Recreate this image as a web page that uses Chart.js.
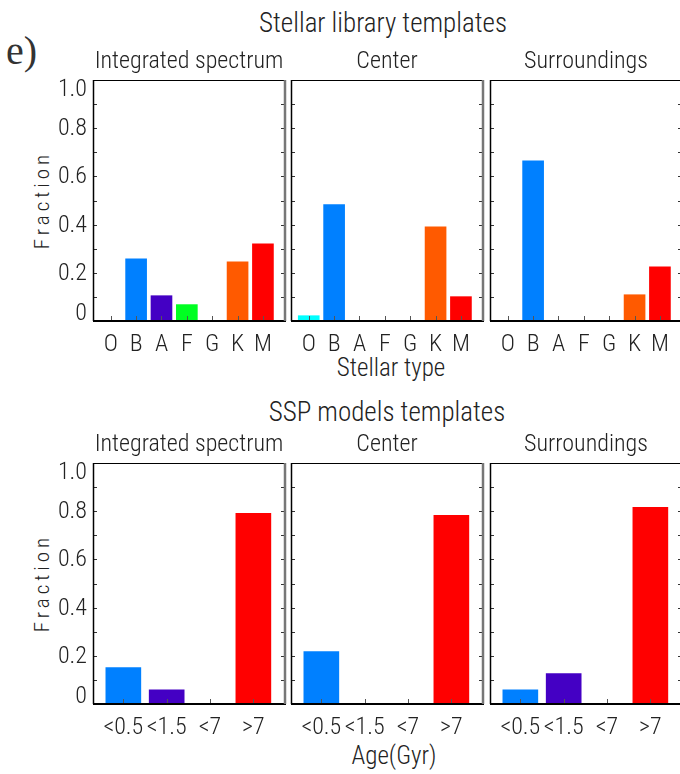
<!DOCTYPE html>
<html lang="en">
<head>
<meta charset="UTF-8">
<title>Stellar library and SSP template fractions</title>
<script src="https://cdn.jsdelivr.net/npm/chart.js"></script>
<style>
    body { margin: 0; background: #fff; overflow: hidden; }
    #wrap {
        position: relative; width: 680px; height: 774px; overflow: hidden;
        font-family: "Roboto Condensed", "Liberation Sans Narrow", "DejaVu Sans Condensed", sans-serif;
        font-weight: 300; color: #222;
    }
    #wrap canvas { position: absolute; }
    .txt { position: absolute; white-space: nowrap; transform: translate(-50%, -50%); line-height: 1; }
    .sup { font-size: 27px; }
    .axt { font-size: 25px; }
    .frac { font-size: 21px; letter-spacing: 4px; transform: translate(-50%, -50%) rotate(-90deg); }
    .tag { font-family: "Liberation Serif", "DejaVu Serif", serif; font-size: 40px; left: 6px; top: 31px; position: absolute; line-height: 1; color: #333; }
</style>
</head>
<body>
<div id="wrap">
    <div class="tag">e)</div>
    <div class="txt sup" style="left:383px; top:23px;">Stellar library templates</div>
    <div class="txt axt" style="left:391px; top:367px;">Stellar type</div>
    <div class="txt sup" style="left:387px; top:412px;">SSP models templates</div>
    <div class="txt axt" style="left:394px; top:755px;">Age(Gyr)</div>
    <div class="txt frac" style="left:42px; top:200px;">Fraction</div>
    <div class="txt frac" style="left:42px; top:583px;">Fraction</div>
</div>
<script>
    // stellar library templates (fractions per stellar type)
    const stellarTypes = ["O", "B", "A", "F", "G", "K", "M"];
    const stellarColors = ["#00ffff", "#0080ff", "#4400c4", "#00ff22", "#808080", "#ff5a00", "#ff0000"];
    const stellarIntegrated = [0, 0.258, 0.105, 0.068, 0, 0.246, 0.320];
    const stellarCenter = [0.022, 0.483, 0, 0, 0, 0.391, 0.101];
    const stellarSurroundings = [0, 0.665, 0, 0, 0, 0.109, 0.225];

    // SSP model templates (fractions per age bin)
    const ageBins = ["<0.5", "<1.5", "<7", ">7"];
    const ageColors = ["#0080ff", "#4400c4", "#4a4a10", "#ff0000"];
    const sspIntegrated = [0.151, 0.059, 0, 0.791];
    const sspCenter = [0.217, 0, 0, 0.783];
    const sspSurroundings = [0.059, 0.126, 0, 0.816];

    const panelTitles = ["Integrated spectrum", "Center", "Surroundings"];
    const yTickValues = [0, 0.2, 0.4, 0.6, 0.8, 1.0];
    const yTickLabels = ["0", "0.2", "0.4", "0.6", "0.8", "1.0"];

    const FONT = '"Roboto Condensed", "Liberation Sans Narrow", "DejaVu Sans Condensed", sans-serif';
    const M = 100, TITLE_H = 32, XAX_H = 60;

    function line(ctx, x1, y1, x2, y2) {
        ctx.beginPath(); ctx.moveTo(x1, y1); ctx.lineTo(x2, y2); ctx.stroke();
    }

    const framePlugin = {
        id: 'frame',
        afterDatasetsDraw(chart, args, opts) {
            const { ctx, chartArea: a, scales: { x, y } } = chart;
            ctx.save();
            ctx.strokeStyle = '#333';
            ctx.lineWidth = 1;
            // minor ticks on both sides, pointing in
            y.ticks.forEach(t => {
                if (t.value <= 0 || t.value >= 1) return;
                const py = Math.round(y.getPixelForValue(t.value)) + 0.5;
                line(ctx, a.left, py, a.left + 4, py);
                line(ctx, a.right - 4, py, a.right, py);
            });
            // category ticks
            ctx.strokeStyle = '#555';
            x.ticks.forEach(t => {
                const px = Math.round(x.getPixelForValue(t.value)) + 0.5;
                line(ctx, px, a.bottom, px, a.bottom - 5);
            });
            // box
            ctx.strokeStyle = '#000';
            ctx.lineWidth = 1;
            line(ctx, a.left, a.top + 0.5, a.right, a.top + 0.5);
            ctx.lineWidth = 1.5;
            line(ctx, a.left + 0.5, a.top, a.left + 0.5, a.bottom);
            ctx.lineWidth = 2;
            line(ctx, a.left, a.bottom, a.right + 1, a.bottom);
            ctx.strokeStyle = '#777';
            ctx.lineWidth = 2.5;
            line(ctx, a.right, a.top, a.right, a.bottom);

            if (opts.yLabels) {
                ctx.fillStyle = '#222';
                ctx.font = '300 24px ' + FONT;
                ctx.textAlign = 'right';
                ctx.textBaseline = 'middle';
                yTickValues.forEach((v, i) => {
                    let py = y.getPixelForValue(v) + 1;
                    if (v === 0) py -= 8;
                    if (v === 1) py += 9;
                    ctx.fillText(yTickLabels[i], a.left - 6, py);
                });
            }
            ctx.restore();
        }
    };

    function makePanel(left, top, width, height, cats, vals, colors, title, xmin, xmax, barPx, yLabels) {
        const cv = document.createElement('canvas');
        const w = width + 2 * M, h = TITLE_H + height + XAX_H;
        cv.width = w; cv.height = h;
        cv.style.width = w + 'px'; cv.style.height = h + 'px';
        cv.style.left = (left - M) + 'px';
        cv.style.top = (top - TITLE_H) + 'px';
        document.getElementById('wrap').appendChild(cv);

        new Chart(cv, {
            type: 'bar',
            data: {
                datasets: [{
                    data: vals.map((v, i) => ({ x: i, y: v })),
                    backgroundColor: colors,
                    borderWidth: 0,
                    barThickness: barPx
                }]
            },
            options: {
                responsive: false,
                animation: false,
                devicePixelRatio: 1,
                layout: { padding: { left: M, right: M, top: 0, bottom: 0 } },
                plugins: {
                    legend: { display: false },
                    tooltip: { enabled: false },
                    frame: { yLabels: yLabels },
                    title: {
                        display: true, text: title, color: '#222',
                        font: { family: FONT, size: 24, weight: 300, lineHeight: 1.2 },
                        padding: { top: 0, bottom: TITLE_H - 28.8 }
                    }
                },
                scales: {
                    x: {
                        type: 'linear', min: xmin, max: xmax, offset: false,
                        grid: { display: false, offset: false }, border: { display: false },
                        afterBuildTicks: s => { s.ticks = cats.map((c, i) => ({ value: i })); },
                        afterFit: s => { s.height = XAX_H; },
                        ticks: {
                            autoSkip: false, maxRotation: 0, padding: 2, color: '#222',
                            font: { family: FONT, size: 24, weight: 300 },
                            callback: (v, i) => cats[i]
                        }
                    },
                    y: {
                        min: 0, max: 1,
                        grid: { display: false }, border: { display: false },
                        ticks: { display: false, stepSize: 0.1 },
                        afterFit: s => { s.width = 0; }
                    }
                }
            },
            plugins: [framePlugin]
        });
    }

    const colLeft = [93, 291, 490];
    const PW = 192, PH = 241;
    const stellarSets = [stellarIntegrated, stellarCenter, stellarSurroundings];
    const sspSets = [sspIntegrated, sspCenter, sspSurroundings];

    stellarSets.forEach((vals, k) => {
        makePanel(colLeft[k], 80, PW, PH, stellarTypes, vals, stellarColors, panelTitles[k], -0.7, 6.87, 21, k === 0);
    });
    sspSets.forEach((vals, k) => {
        makePanel(colLeft[k], 463, PW, PH, ageBins, vals, ageColors, panelTitles[k], -0.7, 3.73, 35, k === 0);
    });
</script>
</body>
</html>
